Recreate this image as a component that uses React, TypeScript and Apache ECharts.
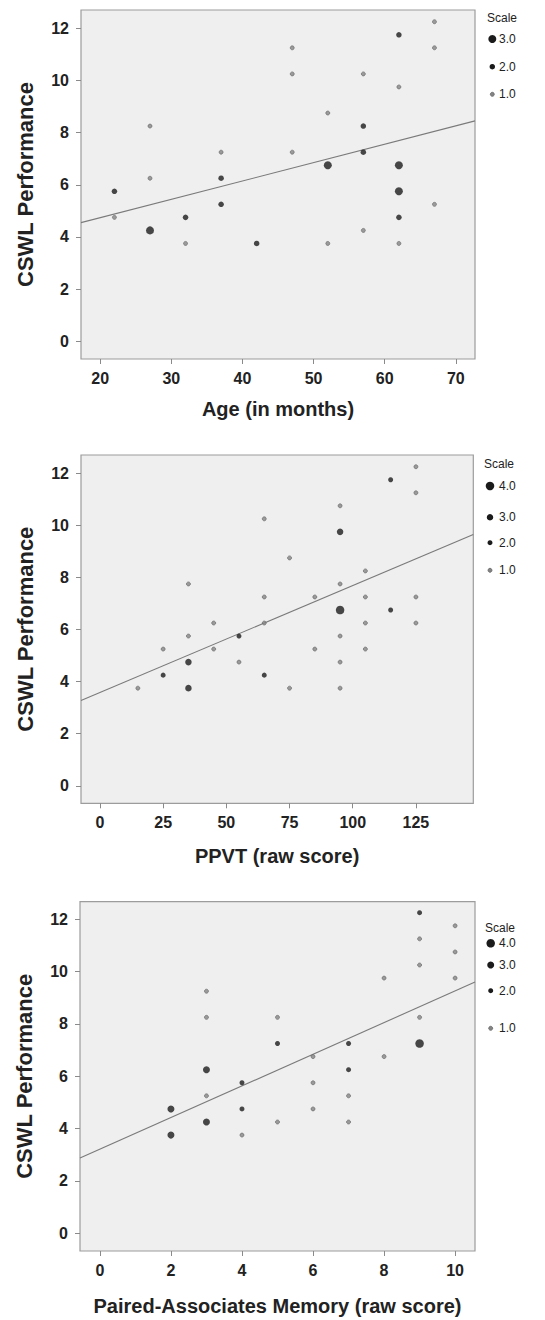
import React, { useEffect, useRef } from "react";
import * as echarts from "echarts";

// [x, CSWL performance, scale (number of cases)]
const agePoints: [number, number, number][] = [
  [22, 5.75, 2], [22, 4.75, 1],
  [27, 8.25, 1], [27, 6.25, 1], [27, 4.25, 3],
  [32, 4.75, 2], [32, 3.75, 1],
  [37, 7.25, 1], [37, 6.25, 2], [37, 5.25, 2],
  [42, 3.75, 2],
  [47, 11.25, 1], [47, 10.25, 1], [47, 7.25, 1],
  [52, 8.75, 1], [52, 6.75, 3], [52, 3.75, 1],
  [57, 10.25, 1], [57, 8.25, 2], [57, 7.25, 2], [57, 4.25, 1],
  [62, 11.75, 2], [62, 9.75, 1], [62, 6.75, 3], [62, 5.75, 3], [62, 4.75, 2], [62, 3.75, 1],
  [67, 12.25, 1], [67, 11.25, 1], [67, 5.25, 1],
];

const ppvtPoints: [number, number, number][] = [
  [15, 3.75, 1],
  [25, 5.25, 1], [25, 4.25, 2],
  [35, 7.75, 1], [35, 5.75, 1], [35, 4.75, 3], [35, 3.75, 3],
  [45, 6.25, 1], [45, 5.25, 1],
  [55, 5.75, 2], [55, 4.75, 1],
  [65, 10.25, 1], [65, 7.25, 1], [65, 6.25, 1], [65, 4.25, 2],
  [75, 8.75, 1], [75, 3.75, 1],
  [85, 7.25, 1], [85, 5.25, 1],
  [95, 10.75, 1], [95, 9.75, 3], [95, 7.75, 1], [95, 6.75, 4], [95, 5.75, 1], [95, 4.75, 1], [95, 3.75, 1],
  [105, 8.25, 1], [105, 7.25, 1], [105, 6.25, 1], [105, 5.25, 1],
  [115, 11.75, 2], [115, 6.75, 2],
  [125, 12.25, 1], [125, 11.25, 1], [125, 7.25, 1], [125, 6.25, 1],
];

const pamPoints: [number, number, number][] = [
  [2, 4.75, 3], [2, 3.75, 3],
  [3, 9.25, 1], [3, 8.25, 1], [3, 6.25, 3], [3, 5.25, 1], [3, 4.25, 3],
  [4, 5.75, 2], [4, 4.75, 2], [4, 3.75, 1],
  [5, 8.25, 1], [5, 7.25, 2], [5, 4.25, 1],
  [6, 6.75, 1], [6, 5.75, 1], [6, 4.75, 1],
  [7, 7.25, 2], [7, 6.25, 2], [7, 5.25, 1], [7, 4.25, 1],
  [8, 9.75, 1], [8, 6.75, 1],
  [9, 12.25, 2], [9, 11.25, 1], [9, 10.25, 1], [9, 8.25, 1], [9, 7.25, 4],
  [10, 11.75, 1], [10, 10.75, 1], [10, 9.75, 1],
];

// fit lines: [intercept, slope]
const ageFit = [3.33, 0.0704];
const ppvtFit = [3.58, 0.0411];
const pamFit = [3.21, 0.605];

const yTicks = [0, 2, 4, 6, 8, 10, 12];
const ageTicks = [20, 30, 40, 50, 60, 70];
const ppvtTicks = [0, 25, 50, 75, 100, 125];
const pamTicks = [0, 2, 4, 6, 8, 10];

const ageScales = [3, 2, 1];
const ppvtScales = [4, 3, 2, 1];
const pamScales = [4, 3, 2, 1];

const yTitle = "CSWL Performance";
const ageTitle = "Age (in months)";
const ppvtTitle = "PPVT (raw score)";
const pamTitle = "Paired-Associates Memory (raw score)";

const FONT = "'Liberation Sans', Arial, Helvetica, sans-serif";

const panels = [
  {
    points: agePoints, fit: ageFit, ticks: ageTicks, title: ageTitle, scales: ageScales,
    grid: { left: 81, top: 10, width: 394, height: 349 },
    xMin: 17.3, xMax: 72.7, yMin: -0.68, yMax: 12.7, nameGap: 40,
    sizes: { 1: 4, 2: 5.5, 3: 8 } as Record<number, number>,
    legend: { x: 487, y: 18, cx: 492.3, tx: 499, ys: [39, 66.7, 94.3] },
  },
  {
    points: ppvtPoints, fit: ppvtFit, ticks: ppvtTicks, title: ppvtTitle, scales: ppvtScales,
    grid: { left: 81, top: 455, width: 392.3, height: 348.3 },
    xMin: -7.5, xMax: 147.7, yMin: -0.67, yMax: 12.7, nameGap: 43,
    sizes: { 1: 4, 2: 5, 3: 6.5, 4: 8.5 } as Record<number, number>,
    legend: { x: 484, y: 464.3, cx: 490, tx: 499, ys: [486, 517.3, 542.7, 570.3] },
  },
  {
    points: pamPoints, fit: pamFit, ticks: pamTicks, title: pamTitle, scales: pamScales,
    grid: { left: 80, top: 901.7, width: 395, height: 349.3 },
    xMin: -0.56, xMax: 10.56, yMin: -0.68, yMax: 12.67, nameGap: 45,
    sizes: { 1: 4, 2: 5, 3: 7, 4: 8.5 } as Record<number, number>,
    legend: { x: 485, y: 928.3, cx: 490.7, tx: 499, ys: [943.3, 965, 990.7, 1028.3] },
  },
];

const DARK = "#1b1b1b";
const GRAY = "#848484";

export default function App() {
  const ref = useRef<HTMLDivElement>(null);
  useEffect(() => {
    if (!ref.current) return;
    const chart = echarts.init(ref.current, undefined, { renderer: "svg" });
    const grids: any[] = [];
    const xAxes: any[] = [];
    const yAxes: any[] = [];
    const series: any[] = [];
    const graphics: any[] = [];

    panels.forEach((p, i) => {
      grids.push({
        ...p.grid,
        show: true,
        backgroundColor: "#efeff0",
        borderColor: "#9c9c9c",
        borderWidth: 1.2,
      });
      xAxes.push({
        gridIndex: i,
        type: "value",
        min: p.xMin,
        max: p.xMax,
        axisLine: { show: false, onZero: false },
        splitLine: { show: false },
        axisTick: { show: true, length: 5, customValues: p.ticks, lineStyle: { color: "#8a8a8a" } },
        axisLabel: {
          customValues: p.ticks, margin: 11, fontSize: 16, fontWeight: "bold",
          color: "#222", fontFamily: FONT,
        },
        name: p.title,
        nameLocation: "middle",
        nameGap: p.nameGap,
        nameTextStyle: { fontSize: 20, fontWeight: "bold", color: "#222", fontFamily: FONT },
      });
      yAxes.push({
        gridIndex: i,
        type: "value",
        min: p.yMin,
        max: p.yMax,
        axisLine: { show: false, onZero: false },
        splitLine: { show: false },
        axisTick: { show: true, length: 5, customValues: yTicks, lineStyle: { color: "#8a8a8a" } },
        axisLabel: {
          customValues: yTicks, margin: 12, fontSize: 16, fontWeight: "bold",
          color: "#222", fontFamily: FONT,
        },
        name: yTitle,
        nameLocation: "middle",
        nameGap: 45,
        nameTextStyle: { fontSize: 22, fontWeight: "bold", color: "#222", fontFamily: FONT },
      });

      p.scales.forEach((s) => {
        const pts = p.points.filter((d) => d[2] === s).map((d) => [d[0], d[1]]);
        series.push({
          type: "scatter",
          xAxisIndex: i,
          yAxisIndex: i,
          data: pts,
          symbol: "circle",
          symbolSize: p.sizes[s],
          itemStyle: s === 1
            ? { color: GRAY, borderColor: "#666", borderWidth: 0.8 }
            : { color: DARK },
          z: 3,
        });
      });

      const [a, b] = p.fit;
      series.push({
        type: "line",
        xAxisIndex: i,
        yAxisIndex: i,
        data: [[p.xMin, a + b * p.xMin], [p.xMax, a + b * p.xMax]],
        symbol: "none",
        lineStyle: { color: "#7a7a7a", width: 1.1 },
        silent: true,
        z: 2,
      });

      const L = p.legend;
      graphics.push({
        type: "text",
        x: L.x,
        y: L.y,
        style: { text: "Scale", fill: "#222", font: `12px ${FONT}`, verticalAlign: "middle", textAlign: "left" },
      });
      p.scales.forEach((s, k) => {
        const r = p.sizes[s] / 2;
        graphics.push({
          type: "circle",
          shape: { cx: L.cx, cy: L.ys[k], r },
          style: s === 1
            ? { fill: GRAY, stroke: "#666", lineWidth: 0.8 }
            : { fill: DARK },
        });
        graphics.push({
          type: "text",
          x: L.tx,
          y: L.ys[k],
          style: { text: s.toFixed(1), fill: "#222", font: `12px ${FONT}`, verticalAlign: "middle", textAlign: "left" },
        });
      });
    });

    chart.setOption({
      animation: false,
      backgroundColor: "#ffffff",
      grid: grids,
      xAxis: xAxes,
      yAxis: yAxes,
      series,
      graphic: graphics,
    });
    return () => chart.dispose();
  }, []);

  return (
    <div
      ref={ref}
      style={{ position: "absolute", left: 0, top: 0, width: 545, height: 1320 }}
    />
  );
}
